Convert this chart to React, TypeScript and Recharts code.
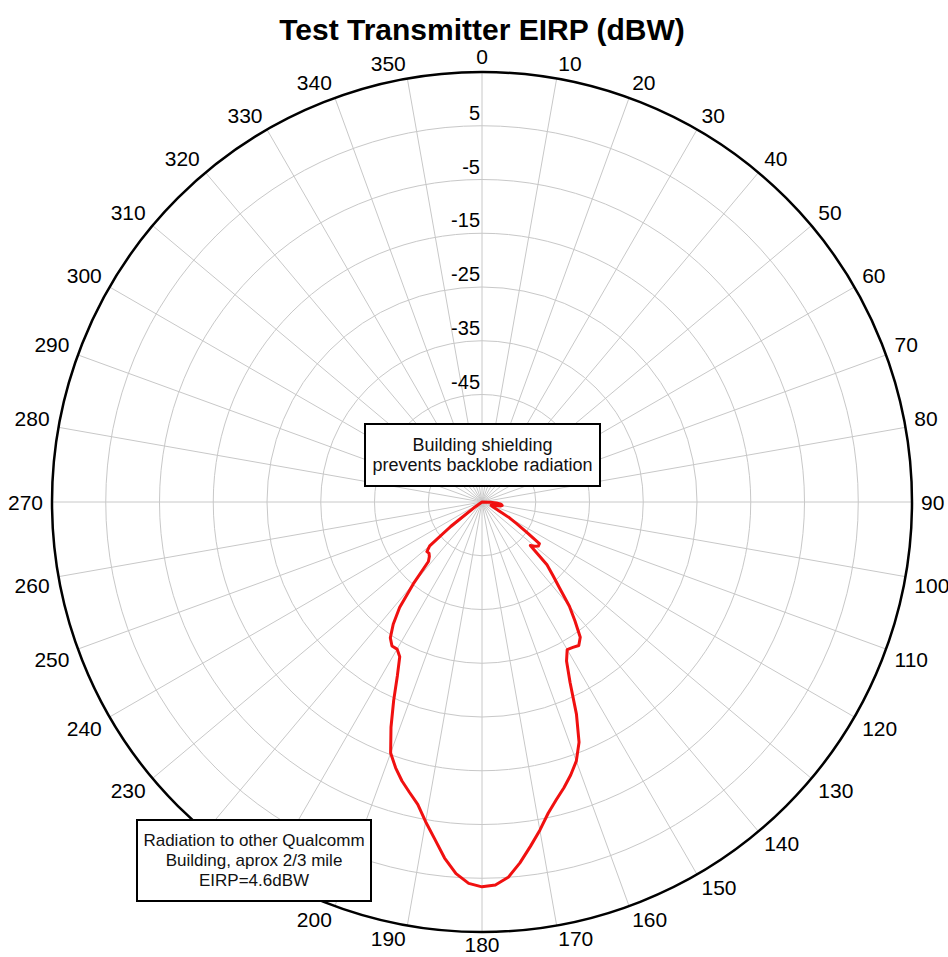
import { RadarChart, PolarGrid, PolarAngleAxis, PolarRadiusAxis, Radar } from 'recharts'

// bearing step of the measured pattern, degrees
const STEP = 2

// EIRP in dBW, every 2 degrees from 0 to 358 (back half is at the floor)
const EIRP_DBW = [
  // 0 - 88
  -65, -65, -65, -65, -65, -65, -65, -65, -65, -65,
  -65, -65, -65, -65, -65, -65, -65, -65, -65, -65,
  -65, -65, -65, -65, -65, -65, -65, -65, -65, -65,
  -65, -65, -65, -65, -65, -65, -65, -65, -65, -65,
  -65, -65, -65, -65, -65,
  // 90 - 178
  -65, -63.5, -62.3, -61.6, -61.3, -61.2, -61.5, -62.4, -63.0, -63.2,
  -63.2, -63.0, -62.7, -62.2, -61.3, -59.1, -57.4, -55.0, -51.8, -51.7,
  -52.2, -52.9, -48.2, -46.0, -43.4, -39.7, -36.9, -33.9, -32.8, -33.1,
  -33.3, -31.5, -27.6, -21.8, -16.8, -13.7, -11.6, -9.7, -7.9, -5.8,
  -3.0, -0.3, 2.5, 5.0, 6.3,
  // 180 - 268
  6.6, 6.0, 4.3, 1.6, -1.7, -4.6, -7.5, -9.3, -11.0, -13.0,
  -15.3, -19.8, -24.6, -29.1, -32.4, -33.4, -33.4, -34.5, -36.9, -40.1,
  -45.1, -50.1, -50.9, -51.3, -51.2, -52.3, -57.6, -63.0, -65, -65,
  -65, -65, -65, -65, -65, -65, -65, -65, -65, -65,
  -65, -65, -65, -65, -65,
  // 270 - 358
  -65, -65, -65, -65, -65, -65, -65, -65, -65, -65,
  -65, -65, -65, -65, -65, -65, -65, -65, -65, -65,
  -65, -65, -65, -65, -65, -65, -65, -65, -65, -65,
  -65, -65, -65, -65, -65, -65, -65, -65, -65, -65,
  -65, -65, -65, -65, -65,
]

const SPOKES = [0, 10, 20, 30, 40, 50, 60, 70, 80, 90, 100, 110, 120, 130, 140, 150, 160, 170,
  180, 190, 200, 210, 220, 230, 240, 250, 260, 270, 280, 290, 300, 310, 320, 330, 340, 350]
// 210 and 220 sit under the lower note box, so they aren't printed
const ANGLE_LABELS = [0, 10, 20, 30, 40, 50, 60, 70, 80, 90, 100, 110, 120, 130, 140, 150, 160, 170,
  180, 190, 200, 230, 240, 250, 260, 270, 280, 290, 300, 310, 320, 330, 340, 350]
const RADIUS_TICKS = [-65, -55, -45, -35, -25, -15, -5, 5, 15]
const RADIUS_LABELS = [5, -5, -15, -25, -35, -45]

const data = EIRP_DBW.map((v, i) => ({ angle: i * STEP, eirp: v }))
// spokes only every 10 degrees (recharts angles: 90 = up, clockwise negative)
const spokeAngles = SPOKES.map((a) => 90 - a)

const FONT = '"Liberation Sans", Arial, sans-serif'

function AngleTick(props: any) {
  const { x, y, payload } = props
  const deg = Number(payload.value)
  if (!ANGLE_LABELS.includes(deg)) return <g />
  const rad = (payload.coordinate * Math.PI) / 180
  const ux = Math.cos(rad)
  const uy = -Math.sin(rad)
  // tick point sits 8px outside the circle; label corner hangs off it
  const px = x + ux * 1
  const py = y
  const anchor = ux > 0.01 ? 'start' : ux < -0.01 ? 'end' : 'middle'
  const ty = uy > 0.01 ? py + 12 + 3 * Math.abs(ux) : uy < -0.01 ? py : py + 7.5
  return (
    <text x={px} y={ty} textAnchor={anchor} fontSize={21} fill="#000" fontFamily={FONT}>
      {deg}
    </text>
  )
}

function RadiusTick(props: any) {
  const { x, y, payload } = props
  if (!RADIUS_LABELS.includes(payload.value)) return <g />
  return (
    <text x={x - 2} y={y - 6} textAnchor="end" fontSize={20} fill="#000" fontFamily={FONT}>
      {payload.value}
    </text>
  )
}

const boxStyle: React.CSSProperties = {
  position: 'absolute',
  background: '#fff',
  border: '2px solid #000',
  boxSizing: 'border-box',
  display: 'flex',
  flexDirection: 'column',
  justifyContent: 'center',
  alignItems: 'center',
  lineHeight: '20px',
  color: '#111',
  textAlign: 'center',
  whiteSpace: 'nowrap',
}

export default function App() {
  return (
    <div style={{ position: 'absolute', left: 0, top: 0, width: 948, height: 957, overflow: 'hidden', background: '#fff', fontFamily: FONT }}>
      <RadarChart width={948} height={957} data={data} cx={482} cy={502} outerRadius={430} margin={{ top: 0, right: 0, bottom: 0, left: 0 }}>
        <PolarGrid gridType="circle" polarAngles={spokeAngles} stroke="#c8c8c8" />
        <PolarAngleAxis
          dataKey="angle"
          tickLine={false}
          axisLineType="circle"
          axisLine={{ stroke: '#000', strokeWidth: 2.5 }}
          tick={AngleTick}
        />
        <PolarRadiusAxis
          angle={90}
          domain={[-65, 15]}
          ticks={RADIUS_TICKS}
          tickCount={9}
          axisLine={false}
          tick={RadiusTick}
        />
        <Radar
          dataKey="eirp"
          stroke="#f01010"
          strokeWidth={3}
          strokeLinejoin="round"
          fill="none"
          fillOpacity={0}
          dot={false}
          isAnimationActive={false}
        />
      </RadarChart>

      <div style={{ position: 'absolute', left: 482, top: 16, transform: 'translateX(-50%)', whiteSpace: 'nowrap', fontSize: 30, fontWeight: 'bold', lineHeight: '28px', color: '#000' }}>
        Test Transmitter EIRP (dBW)
      </div>

      <div style={{ ...boxStyle, left: 364, top: 423, width: 237, height: 64, fontSize: 18 }}>
        <div>Building shielding</div>
        <div>prevents backlobe radiation</div>
      </div>

      <div style={{ ...boxStyle, left: 136, top: 819, width: 236, height: 83, fontSize: 17 }}>
        <div>Radiation to other Qualcomm</div>
        <div>Building, aprox 2/3 mile</div>
        <div>EIRP=4.6dBW</div>
      </div>
    </div>
  )
}
